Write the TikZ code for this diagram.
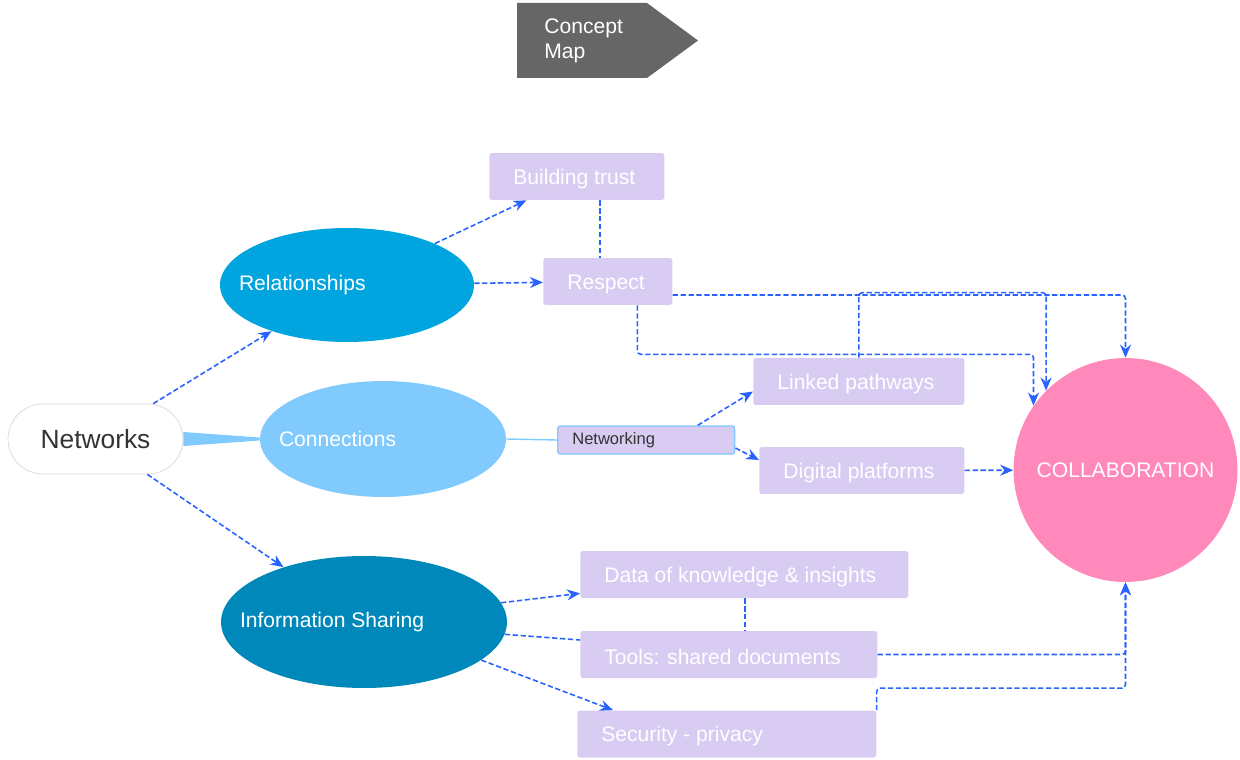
\documentclass[tikz,border=0pt]{standalone}
\usepackage{fontspec}
\setmainfont{Liberation Sans}
\usetikzlibrary{shapes.geometric,arrows.meta}
\definecolor{linkblue}{HTML}{2962FF}
\definecolor{relblue}{HTML}{00A5E0}
\definecolor{connblue}{HTML}{80CAFD}
\definecolor{infoblue}{HTML}{0088BB}
\definecolor{collabpink}{HTML}{FF89BA}
\definecolor{boxlav}{HTML}{D8CCF3}
\definecolor{titlegray}{HTML}{666666}
\definecolor{nettext}{HTML}{333333}
\newcommand{\lblfont}{\fontsize{12}{14}\selectfont}

\begin{document}
\begin{tikzpicture}
[x=0.02cm,y=-0.02cm,
  bubble/.style={shape=ellipse,inner sep=0pt},%
  bubbletext/.style={anchor=west,inner sep=0pt,xshift=0.38cm,text=white,font=\lblfont},%
  boxdecorate/.style={shape=rectangle,rounded corners=1.5pt,fill=boxlav,anchor=west,inner sep=0pt,minimum height=0.94cm},%
  boxtext/.style={anchor=west,inner sep=0pt,xshift=0.48cm,yshift=-0.05cm,text=white,font=\lblfont},%
  linkdecorate/.style={draw=linkblue,line width=0.9pt,dash pattern=on 3pt off 1.5pt,rounded corners=2pt},%
  arrowdecorate/.style={linkdecorate,-{Stealth[length=2.6mm,width=2.2mm]}}]
\useasboundingbox (0,0) rectangle (1240,760);
%% title
\fill[titlegray] (517,3) -- (647,3) -- (698,40.5) -- (647,78) -- (517,78) -- cycle;
\node (title) at (544,40.5) [anchor=west,align=left,inner sep=0pt,text=white,font=\fontsize{12}{14.2}\selectfont] {Concept\\Map};
%% hub
\node (net) at (95.5,439) [shape=rectangle,rounded corners=0.7cm,minimum width=3.5cm,minimum height=1.4cm,fill=white,draw=black!15,text=nettext,font=\fontsize{15}{18}\selectfont] {Networks};
%% ellipses
\foreach \nodename/\x/\y/\w/\h/\col/\txt in {rel/347/285/5.08/2.28/relblue/Relationships, conn/383/439/4.92/2.32/connblue/Connections, info/364/622/5.72/2.64/infoblue/Information Sharing} {
  \node (\nodename) at (\x,\y) [bubble,fill=\col,minimum width=\w cm,minimum height=\h cm,label={[bubbletext]west:{\txt}}] {};
}
\node (collab) at (1125.5,470) [shape=circle,fill=collabpink,minimum size=4.48cm,inner sep=0pt,text=white,font=\lblfont] {COLLABORATION};
%% boxes
\foreach \nodename/\x/\y/\w/\txt in {trust/489/176.5/3.5/Building trust, respect/543/281.5/2.58/Respect, linked/753/381.5/4.22/Linked pathways, digital/759/470.5/4.1/Digital platforms, data/580/574.5/6.56/Data of knowledge \& insights, tools/580/654.5/5.94/Tools: shared documents, security/577/734/5.98/Security - privacy} {
  \node (\nodename) at (\x,\y) [boxdecorate,minimum width=\w cm,label={[boxtext]west:{\txt}}] {};
}
\node (netw) at (557,440) [boxdecorate,minimum width=3.54cm,minimum height=0.56cm,draw=connblue,line width=0.8pt,label={[anchor=west,inner sep=0pt,xshift=0.3cm,text=nettext,font=\fontsize{9.4}{11}\selectfont]west:Networking}] {};
%% tapered link
\fill[connblue] ([yshift=0.14cm]net.east) -- ([yshift=0.03cm]conn.west) -- ([yshift=-0.03cm]conn.west) -- ([yshift=-0.14cm]net.east) -- cycle;
%% edges
\path
\foreach \startnode/\endnode in {net/rel, net/info, rel/trust, rel/respect, digital/collab} {
  (\startnode) edge[arrowdecorate] (\endnode)
};
\draw[linkdecorate,line width=1.1pt] ([xshift=0.46cm]trust.south) -- ([xshift=0.46cm]trust.south |- respect.north);
\draw[arrowdecorate] ([yshift=-0.27cm]respect.east) -| (collab.north);
\draw[arrowdecorate] ([xshift=0.59cm]respect.south) -- ++(0,49) -| (collab.145);
\draw[arrowdecorate] (linked.north) -- ++(0,-65) -| (collab.north west);
\draw[connblue,line width=0.8pt] (conn.east) -- (netw.west);
\draw[arrowdecorate] ([xshift=1.03cm]netw.north) -- ([yshift=-0.2cm]linked.west);
\draw[arrowdecorate] ([yshift=-0.16cm]netw.east) -- ([yshift=0.21cm]digital.west);
\draw[arrowdecorate] (info.8) -- ([yshift=0.1cm]data.south west);
\draw[linkdecorate] (info.-5) -- ([yshift=0.29cm]tools.west);
\draw[arrowdecorate] (info.-18) -- ([xshift=0.72cm]security.north west);
\draw[linkdecorate,line width=1.1pt] ([xshift=0.01cm]data.south) -- ([xshift=0.01cm]data.south |- tools.north);
\draw[arrowdecorate] (tools.east) -| (collab.south);
\draw[arrowdecorate] (security.north east) -- ++(0,-22) -| (collab.south);
\end{tikzpicture}
\end{document}
